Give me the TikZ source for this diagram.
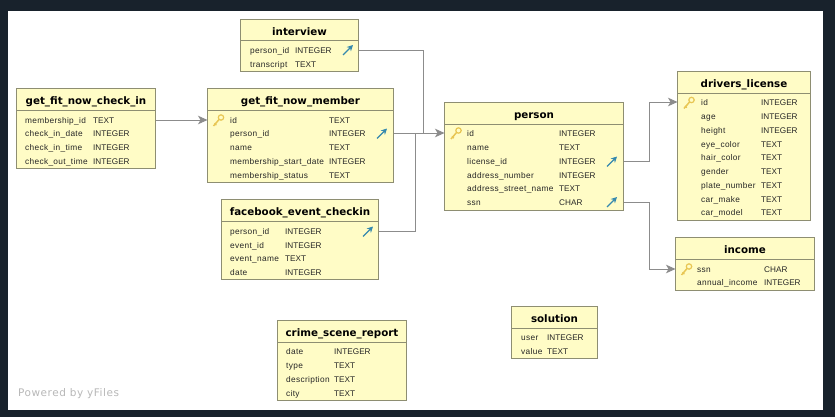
\documentclass[tikz,border=0pt]{standalone}
\usepackage{fontspec}
\setmainfont{Liberation Sans}
\newfontfamily\namefont[LetterSpace=4]{Liberation Sans}
\newfontfamily\titlefont{DejaVu Sans}
\newfontfamily\poweredfont[LetterSpace=5]{DejaVu Sans}
\usetikzlibrary{arrows.meta}

\definecolor{framecol}{HTML}{18222C}
\definecolor{tablefill}{HTML}{FFFCC6}
\definecolor{tableline}{HTML}{8E8E72}
\definecolor{linkcol}{HTML}{8C8C8C}
\definecolor{keycol}{HTML}{E8C654}
\definecolor{fkcol}{HTML}{3589AE}

\tikzset{
  tablebox/.style={draw=tableline,fill=tablefill,line width=0.9pt,anchor=north west,inner sep=0pt,outer sep=0pt},
  tabletitle/.style={font=\titlefont\bfseries\fontsize{10.3}{11}\selectfont,inner sep=0pt,text height=7.5pt,text depth=2pt},
  fieldtext/.style={font=\namefont\fontsize{8.3}{9}\selectfont,anchor=west,inner sep=0pt,text height=8.6pt,text depth=2pt,text=black!85},
  typetext/.style={font=\fontsize{8.2}{9}\selectfont,anchor=west,inner sep=0pt,text height=8.6pt,text depth=2pt,text=black!85},
  link/.style={draw=linkcol,line width=0.8pt},
  linkarrow/.style={link,-{Stealth[length=9.5pt,width=8.5pt,inset=2.5pt,fill=linkcol]}},
  keyicon/.pic={
    \draw[keycol,line width=1.5pt] (-4.5,5.5) -- (1.2,-1.2);
    \draw[keycol,line width=1.3pt] (-3.6,3) -- (-1.6,4.6);
    \draw[keycol,line width=1.2pt,fill=tablefill] (3,-3) circle (2.7);
  },
  fkarrow/.pic={
    \draw[fkcol,line width=1.3pt,-{Stealth[length=6pt,width=6pt]}] (-5,5) -- (5,-5);
  },
}

\begin{document}
\begin{tikzpicture}[x=1pt,y=-1pt]

\fill[framecol] (0,0) rectangle (835,417);
\fill[white] (8,11) rectangle (823,410);

% tables
\foreach \nm/\ttl/\xa/\ya/\bw/\bh/\hy in {
  interview/interview/240.5/19.5/118/52/40.5,
  checkin/get\_fit\_now\_check\_in/16.5/88.5/139/80/110.5,
  member/get\_fit\_now\_member/207.5/88.5/186/94/110.5,
  facebook/facebook\_event\_checkin/221.5/199.5/157/80/221.5,
  crime/crime\_scene\_report/277.5/320.5/129/80/342.5,
  person/person/444.5/102.5/179/108/124.5,
  license/drivers\_license/677.5/71.5/133/149/93.5,
  income/income/675.5/237.5/139/53/259.5,
  solution/solution/511.5/306.5/86/52/328}{
  \node[tablebox,minimum width=\bw pt,minimum height=\bh pt] (\nm) at (\xa,\ya) {};
  \node[tabletitle] (\nm-title) at (\xa+\bw/2,\ya+13) {\ttl};
  \draw[tableline,line width=0.7pt] (\xa,\hy) -- (\xa+\bw,\hy);
}

% rows
\foreach \id/\col/\typ/\y in {personid/person\_id/INTEGER/50,transcript/transcript/TEXT/64}{
  \node[fieldtext] (interview-\id) at (250,\y) {\col};
  \node[typetext] (interview-\id-type) at (295,\y) {\typ};
}
\foreach \id/\col/\typ/\y in {membershipid/membership\_id/TEXT/120,date/check\_in\_date/INTEGER/133,time/check\_in\_time/INTEGER/147,out/check\_out\_time/INTEGER/161}{
  \node[fieldtext] (checkin-\id) at (25,\y) {\col};
  \node[typetext] (checkin-\id-type) at (93,\y) {\typ};
}
\foreach \id/\col/\typ/\y in {id/id/TEXT/120,personid/person\_id/INTEGER/133,name/name/TEXT/147,start/membership\_start\_date/INTEGER/161,status/membership\_status/TEXT/175}{
  \node[fieldtext] (member-\id) at (230,\y) {\col};
  \node[typetext] (member-\id-type) at (329,\y) {\typ};
}
\foreach \id/\col/\typ/\y in {personid/person\_id/INTEGER/231,eventid/event\_id/INTEGER/245,eventname/event\_name/TEXT/258,date/date/INTEGER/272}{
  \node[fieldtext] (facebook-\id) at (230,\y) {\col};
  \node[typetext] (facebook-\id-type) at (285,\y) {\typ};
}
\foreach \id/\col/\typ/\y in {date/date/INTEGER/351,type/type/TEXT/365,description/description/TEXT/379,city/city/TEXT/393}{
  \node[fieldtext] (crime-\id) at (286,\y) {\col};
  \node[typetext] (crime-\id-type) at (334,\y) {\typ};
}
\foreach \id/\col/\typ/\y in {id/id/INTEGER/133,name/name/TEXT/147,licenseid/license\_id/INTEGER/161,number/address\_number/INTEGER/175,street/address\_street\_name/TEXT/188,ssn/ssn/CHAR/202}{
  \node[fieldtext] (person-\id) at (467,\y) {\col};
  \node[typetext] (person-\id-type) at (559,\y) {\typ};
}
\foreach \id/\col/\typ/\y in {id/id/INTEGER/102,age/age/INTEGER/116,height/height/INTEGER/130,eye/eye\_color/TEXT/144,hair/hair\_color/TEXT/157,gender/gender/TEXT/171,plate/plate\_number/TEXT/185,make/car\_make/TEXT/199,model/car\_model/TEXT/212}{
  \node[fieldtext] (license-\id) at (701,\y) {\col};
  \node[typetext] (license-\id-type) at (761,\y) {\typ};
}
\foreach \id/\col/\typ/\y in {ssn/ssn/CHAR/269,annual/annual\_income/INTEGER/282}{
  \node[fieldtext] (income-\id) at (697,\y) {\col};
  \node[typetext] (income-\id-type) at (764,\y) {\typ};
}
\foreach \id/\col/\typ/\y in {user/user/INTEGER/337,value/value/TEXT/351}{
  \node[fieldtext] (solution-\id) at (521,\y) {\col};
  \node[typetext] (solution-\id-type) at (547,\y) {\typ};
}

% key and foreign key marks
\pic at (218,120.5) {keyicon};
\pic at (455.5,133.5) {keyicon};
\pic at (688.5,103) {keyicon};
\pic at (686,269.5) {keyicon};
\pic at (348,50) {fkarrow};
\pic at (382,133.5) {fkarrow};
\pic at (368,231.5) {fkarrow};
\pic at (612,161.5) {fkarrow};
\pic at (612,202) {fkarrow};

% bends
\coordinate (busa) at (423.5,0);
\coordinate (busb) at (415,0);
\coordinate (busc) at (649.5,0);

% connectors
\draw[linkarrow] (checkin-membershipid -| checkin.east) -- (member-id -| member.west);
\draw[link] (interview-personid -| interview.east) -- (busa |- interview-personid) -- (busa |- person-id);
\draw[linkarrow] (member-personid -| member.east) -- (member-personid -| person.west);
\draw[link] (facebook-personid -| facebook.east) -- (busb |- facebook-personid) -- (busb |- person-id);
\draw[linkarrow] (person-licenseid -| person.east) -- (busc |- person-licenseid) -- (busc |- license-id) -- (license-id -| license.west);
\draw[linkarrow] (person-ssn -| person.east) -- (busc |- person-ssn) -- (busc |- income-ssn) -- (income-ssn -| income.west);

\node[anchor=west,inner sep=0pt,text=black!28,font=\poweredfont\fontsize{10.5}{12}\selectfont] (powered) at (18,393.5) {Powered by yFiles};

\end{tikzpicture}
\end{document}
